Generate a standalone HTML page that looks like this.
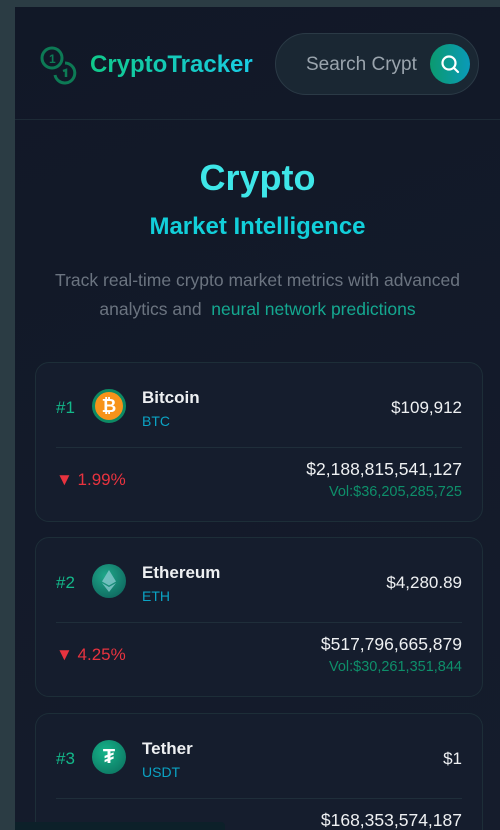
<!DOCTYPE html>
<html><head><meta charset="utf-8">
<style>
*{box-sizing:border-box;margin:0;padding:0}
body{width:500px;height:830px;overflow:hidden;background:#2b3c44;font-family:"Liberation Sans","DejaVu Sans",sans-serif;position:relative}
#main{position:absolute;left:15px;top:7px;width:485px;height:823px;background:linear-gradient(160deg,#111827,#151c2c);overflow:hidden}
#header{position:absolute;left:0;top:0;width:485px;height:113px;border-bottom:1px solid #1d2a36}
.logo{position:absolute;left:24px;top:38px}
.brand{position:absolute;left:75px;top:44px;font-size:24px;font-weight:bold;background:linear-gradient(90deg,#10c88a,#19cce6);-webkit-background-clip:text;color:transparent}
.search{position:absolute;left:260px;top:26px;width:204px;height:62px;border-radius:31px;background:#1a2733;border:1px solid #2b3a46}
.search span{position:absolute;left:30px;top:20px;font-size:19px;color:#9aa4ad}
.sbtn{position:absolute;left:154px;top:10px;width:40px;height:40px;border-radius:50%;background:linear-gradient(90deg,#0b9a6f,#0a9ab8)}
h1{position:absolute;left:0;width:485px;top:150px;text-align:center;font-size:36px;color:#3ee6e8;font-weight:bold}
h2{position:absolute;left:0;width:485px;top:206px;text-align:center;font-size:24px;font-weight:bold;color:#12cfda}
.desc{position:absolute;left:10px;width:465px;top:259px;text-align:center;font-size:17.5px;line-height:29px;color:#6b7480}
.desc b{font-weight:normal;color:#14a890}
.card{position:absolute;left:20px;width:448px;height:160px;border:1px solid #1d2e38;border-radius:14px;background:#151d2d}
.rank{position:absolute;left:20px;top:35px;font-size:17px;color:#13b88a}
.icon{position:absolute;left:56px;top:26px;width:34px;height:34px;border-radius:50%}
.name{position:absolute;left:106px;top:25px;font-size:17px;font-weight:bold;color:#eef0f2}
.sym{position:absolute;left:106px;top:50px;font-size:14px;color:#0ba3c4}
.price{position:absolute;right:20px;top:35px;font-size:17px;color:#eef0f2}
.sep{position:absolute;left:20px;right:20px;top:84px;height:1px;background:#1f2e3a}
.chg{position:absolute;left:20px;top:107px;font-size:17px;color:#e8333f}
.cap{position:absolute;right:20px;top:96px;font-size:17.5px;color:#eef0f2}
.vol{position:absolute;right:20px;top:121px;font-size:14.5px;color:#0e8f6a}
#status{position:absolute;left:0;top:815px;width:210px;height:8px;background:#0c2029;border-radius:0 4px 0 0}
</style></head><body>
<div id="main">
 <div id="header">
  <svg class="logo" width="40" height="40" viewBox="0 0 40 40"><circle cx="13" cy="13" r="10" fill="none" stroke="#0d7a55" stroke-width="3"/><text x="10" y="18" font-size="12" font-weight="bold" fill="#0d7a55" font-family="Liberation Sans">1</text><path d="M26 18 A10 10 0 1 1 16 30" fill="none" stroke="#0d7a55" stroke-width="3"/><path d="M24 26 l3 -1 v7" fill="none" stroke="#0d7a55" stroke-width="2.5"/></svg>
  <div class="brand">CryptoTracker</div>
  <div class="search"><span>Search Crypt</span>
   <div class="sbtn"><svg width="40" height="40" viewBox="0 0 40 40"><circle cx="19" cy="19" r="6.5" fill="none" stroke="#fff" stroke-width="2.2"/><line x1="24" y1="24" x2="28" y2="28" stroke="#fff" stroke-width="2.2" stroke-linecap="round"/></svg></div>
  </div>
 </div>
 <h1>Crypto</h1>
 <h2>Market Intelligence</h2>
 <p class="desc">Track real-time crypto market metrics with advanced analytics and &nbsp;<b>neural network predictions</b></p>

 <div class="card" style="top:355px">
  <div class="rank">#1</div>
  <div class="icon" style="background:#f7931a;border:3px solid #0d8a64"><div style="color:#fff;font-weight:bold;font-size:18px;text-align:center;line-height:28px">₿</div></div>
  <div class="name">Bitcoin</div>
  <div class="sym">BTC</div>
  <div class="price">$109,912</div>
  <div class="sep"></div>
  <div class="chg">▼ 1.99%</div>
  <div class="cap">$2,188,815,541,127</div>
  <div class="vol">Vol:$36,205,285,725</div>
 </div>

 <div class="card" style="top:530px">
  <div class="rank">#2</div>
  <div class="icon" style="background:radial-gradient(circle at 40% 35%,#1fa88a,#0b5a55)"><svg width="34" height="34" viewBox="0 0 34 34"><path d="M17 6 L24 17.5 L17 21.5 L10 17.5Z M17 23 L24 19 L17 28 L10 19Z" fill="#7fc6c8" opacity="0.85"/></svg></div>
  <div class="name">Ethereum</div>
  <div class="sym">ETH</div>
  <div class="price">$4,280.89</div>
  <div class="sep"></div>
  <div class="chg">▼ 4.25%</div>
  <div class="cap">$517,796,665,879</div>
  <div class="vol">Vol:$30,261,351,844</div>
 </div>

 <div class="card" style="top:706px;height:117px;border-bottom:none;border-radius:14px 14px 0 0">
  <div class="rank">#3</div>
  <div class="icon" style="background:radial-gradient(circle at 40% 35%,#16b48a,#0b6a5a)"><div style="color:#fff;font-weight:bold;font-size:20px;text-align:center;line-height:34px">₮</div></div>
  <div class="name">Tether</div>
  <div class="sym">USDT</div>
  <div class="price">$1</div>
  <div class="sep"></div>
  <div class="cap">$168,353,574,187</div>
 </div>
 <div id="status"></div>
</div>
</body></html>
